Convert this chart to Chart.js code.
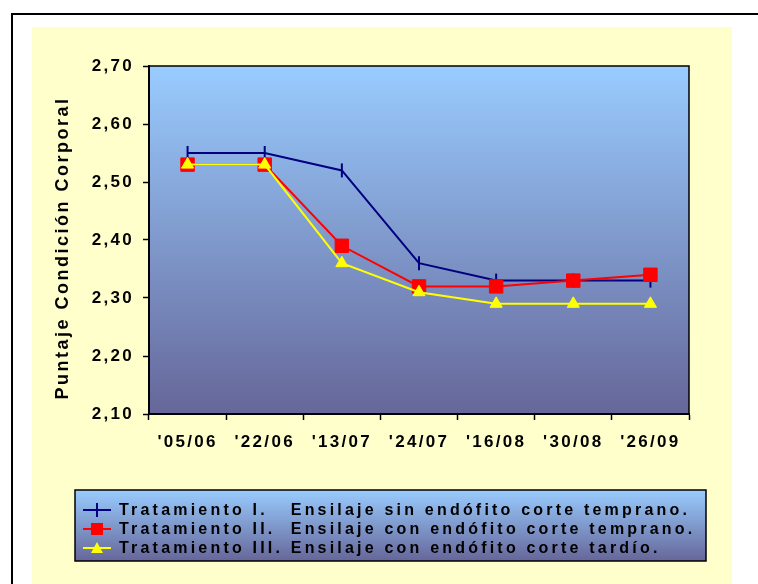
<!DOCTYPE html>
<html>
<head>
  <title>Puntaje Condición Corporal</title>
  <script src="https://cdn.jsdelivr.net/npm/chart.js"></script>
  <style>
    body { margin: 0; background: #fff; }
  </style>
</head>
<body>
  <canvas id="grafico" width="758" height="584"></canvas>

  <script>
    // datos
    const fechas = ["'05/06", "'22/06", "'13/07", "'24/07", "'16/08", "'30/08", "'26/09"];
    const tratamientoI = [2.55, 2.55, 2.52, 2.36, 2.33, 2.33, 2.33];
    const tratamientoII = [2.53, 2.53, 2.39, 2.32, 2.32, 2.33, 2.34];
    const tratamientoIII = [2.53, 2.53, 2.36, 2.31, 2.29, 2.29, 2.29];
    const nombres = [
      'Tratamiento I.   Ensilaje sin endófito corte temprano.',
      'Tratamiento II.  Ensilaje con endófito corte temprano.',
      'Tratamiento III. Ensilaje con endófito corte tardío.'
    ];
    const tituloY = 'Puntaje Condición Corporal';
    const yMin = 2.1, yMax = 2.7, yPaso = 0.1;

    const fuente = "'Liberation Sans', Arial, sans-serif";
    Chart.defaults.font.family = fuente;
    Chart.defaults.color = '#000';

    // fondo amarillo, marco y degradado del area de trazado
    const fondo = {
      id: 'fondo',
      beforeDraw(chart) {
        const { ctx, chartArea: a } = chart;
        ctx.save();
        ctx.fillStyle = '#fff';
        ctx.fillRect(0, 0, chart.width, chart.height);
        ctx.fillStyle = '#ffffcc';
        ctx.fillRect(32, 27, 700, 570);
        ctx.strokeStyle = '#000';
        ctx.lineWidth = 2;
        ctx.beginPath();
        ctx.moveTo(12, 600);
        ctx.lineTo(12, 14);
        ctx.lineTo(770, 14);
        ctx.stroke();
        const g = ctx.createLinearGradient(0, a.top, 0, a.bottom);
        g.addColorStop(0, '#99ccff');
        g.addColorStop(1, '#666699');
        ctx.fillStyle = g;
        ctx.fillRect(a.left, a.top, a.right - a.left, a.bottom - a.top);
        ctx.restore();
        ctx.letterSpacing = '2.3px';
      },
      beforeDatasetsDraw(chart) {
        const { ctx, chartArea: a } = chart;
        ctx.save();
        ctx.strokeStyle = '#000';
        ctx.lineWidth = 1.5;
        ctx.beginPath();
        ctx.moveTo(a.left, a.top);
        ctx.lineTo(a.right, a.top);
        ctx.lineTo(a.right, a.bottom);
        ctx.stroke();
        ctx.restore();
      },
      afterDraw(chart) {
        const { ctx, chartArea: a } = chart;
        ctx.save();
        // titulo del eje y
        ctx.letterSpacing = '2.5px';
        ctx.font = 'bold 18px ' + fuente;
        ctx.fillStyle = '#000';
        ctx.translate(63, (a.top + a.bottom) / 2 + 8);
        ctx.rotate(-Math.PI / 2);
        ctx.textAlign = 'center';
        ctx.textBaseline = 'middle';
        ctx.fillText(tituloY, 0, 0);
        ctx.restore();

        // leyenda
        const box = { x: 75, y: 490, w: 631, h: 71 };
        ctx.save();
        const g = ctx.createLinearGradient(0, box.y, 0, box.y + box.h);
        g.addColorStop(0, '#99ccff');
        g.addColorStop(1, '#666699');
        ctx.fillStyle = g;
        ctx.fillRect(box.x, box.y, box.w, box.h);
        ctx.strokeStyle = '#000';
        ctx.lineWidth = 1.5;
        ctx.strokeRect(box.x, box.y, box.w, box.h);

        chart.data.datasets.forEach((ds, i) => {
          const y = 510 + i * 19;
          ctx.strokeStyle = ds.borderColor;
          ctx.lineWidth = 2;
          ctx.beginPath();
          ctx.moveTo(83, y);
          ctx.lineTo(111, y);
          ctx.stroke();
          ctx.fillStyle = ds.pointBackgroundColor;
          if (ds.pointStyle === 'line') {
            ctx.beginPath();
            ctx.moveTo(97, y - 7);
            ctx.lineTo(97, y + 7);
            ctx.stroke();
          } else if (ds.pointStyle === 'rect') {
            ctx.fillRect(91, y - 6, 12, 12);
          } else {
            ctx.beginPath();
            ctx.moveTo(97, y - 6);
            ctx.lineTo(103, y + 5);
            ctx.lineTo(91, y + 5);
            ctx.closePath();
            ctx.fill();
          }
          ctx.fillStyle = '#000';
          ctx.letterSpacing = '3.2px';
          ctx.font = 'bold 16px ' + fuente;
          ctx.textAlign = 'left';
          ctx.textBaseline = 'middle';
          ctx.fillText(ds.label, 119, y + 1);
        });
        ctx.restore();
      }
    };

    const grafico = new Chart(document.getElementById('grafico'), {
      type: 'line',
      data: {
        labels: fechas,
        datasets: [
          {
            label: nombres[0],
            data: tratamientoI,
            borderColor: '#000080',
            backgroundColor: '#000080',
            pointBackgroundColor: '#000080',
            borderWidth: 2,
            pointStyle: 'line',
            pointRotation: 90,
            pointRadius: 7,
            pointBorderWidth: 2,
            order: 2
          },
          {
            label: nombres[1],
            data: tratamientoII,
            borderColor: '#ff0000',
            backgroundColor: '#ff0000',
            pointBackgroundColor: '#ff0000',
            borderWidth: 2,
            pointStyle: 'rect',
            pointRadius: 9.5,
            pointBorderWidth: 1,
            order: 1
          },
          {
            label: nombres[2],
            data: tratamientoIII,
            borderColor: '#ffff00',
            backgroundColor: '#ffff00',
            pointBackgroundColor: '#ffff00',
            borderWidth: 2,
            pointStyle: 'triangle',
            pointRadius: 7,
            pointBorderWidth: 1,
            order: 0
          }
        ]
      },
      options: {
        responsive: false,
        animation: false,
        layout: { padding: { top: 66, right: 69, left: 0, bottom: 0 } },
        plugins: {
          legend: { display: false },
          tooltip: { enabled: false }
        },
        scales: {
          x: {
            offset: true,
            afterFit(scale) { scale.height = 170; },
            border: { display: true, color: '#000', width: 2 },
            grid: {
              offset: true,
              drawOnChartArea: false,
              drawTicks: true,
              tickLength: 6,
              tickColor: '#000',
              tickWidth: 1.5
            },
            ticks: {
              autoSkip: false,
              maxRotation: 0,
              padding: 12,
              font: { size: 17, weight: 'bold' }
            }
          },
          y: {
            min: yMin,
            max: yMax,
            afterFit(scale) { scale.width = 149; },
            border: { display: true, color: '#000', width: 2 },
            grid: {
              drawOnChartArea: false,
              drawTicks: true,
              tickLength: 6,
              tickColor: '#000',
              tickWidth: 1.5
            },
            ticks: {
              stepSize: yPaso,
              padding: 9,
              font: { size: 17, weight: 'bold' },
              callback: v => v.toFixed(2).replace('.', ',')
            }
          }
        }
      },
      plugins: [fondo]
    });
  </script>
</body>
</html>
